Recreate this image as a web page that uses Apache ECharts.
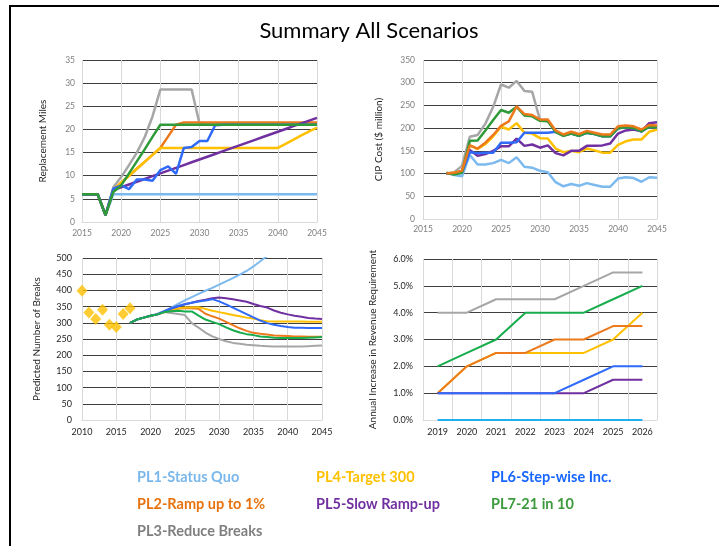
<!DOCTYPE html>
<html>
<head>
<meta charset="utf-8">
<script src="https://cdn.jsdelivr.net/npm/echarts@6/dist/echarts.min.js"></script>
<style>
  html, body { margin: 0; padding: 0; background: #fff; }
  #chart { width: 719px; height: 546px; position: relative; }
  #frame {
    position: absolute; left: 9px; top: 5px; right: 0; bottom: 0;
    border-top: 2px solid #000; border-left: 2px solid #000;
    pointer-events: none;
  }
</style>
</head>
<body>
<div id="chart"></div>
<div id="frame"></div>
<script>
// ---- scenario names / colours ----
const names = ['PL1-Status Quo', 'PL2-Ramp up to 1%', 'PL3-Reduce Breaks', 'PL4-Target 300',
  'PL5-Slow Ramp-up', 'PL6-Step-wise Inc.', 'PL7-21 in 10']

// ---- chart 1: Replacement Miles (2015-2045) ----
const years1 = [2015, 2016, 2017, 2018, 2019, 2020, 2021, 2022, 2023, 2024, 2025, 2026, 2027, 2028, 2029, 2030,
  2031, 2032, 2033, 2034, 2035, 2036, 2037, 2038, 2039, 2040, 2041, 2042, 2043, 2044, 2045]
const miles1 = [6, 6, 6, 1.5, 6, 6, 6, 6, 6, 6, 6, 6, 6, 6, 6, 6, 6, 6, 6, 6, 6, 6, 6, 6, 6, 6, 6, 6, 6, 6, 6]
const miles2 = [6, 6, 6, 1.5, 7, 8.5, 10, 11.5, 13, 14.5, 16, 18.5, 21, 21.5, 21.5, 21.5, 21.5, 21.5, 21.5, 21.5,
  21.5, 21.5, 21.5, 21.5, 21.5, 21.5, 21.5, 21.5, 21.5, 21.5, 21.5]
const miles3 = [6, 6, 6, 1.5, 7.5, 9.7, 12.3, 15, 18.3, 22.8, 28.6, 28.6, 28.6, 28.6, 28.6, 21.3, 21, 21, 21, 21,
  21, 21, 21, 21, 21, 21, 21, 21, 21, 21, 21]
const miles4 = [6, 6, 6, 1.5, 7, 8.5, 10, 11.5, 13, 14.5, 16, 16, 16, 16, 16, 16, 16, 16, 16, 16, 16, 16, 16, 16,
  16, 16, 16.9, 17.8, 18.7, 19.6, 20.4]
const miles5 = [6, 6, 6, 1.5, 6.9, 7.5, 8.1, 8.7, 9.3, 9.9, 10.5, 11.1, 11.7, 12.3, 12.9, 13.5, 14.1, 14.7, 15.3,
  15.9, 16.5, 17.1, 17.7, 18.3, 18.9, 19.5, 20.1, 20.7, 21.3, 21.9, 22.5]
const miles6 = [6, 6, 6, 1.5, 7.2, 7.9, 7.1, 9.2, 9.2, 8.9, 11.2, 12, 10.4, 16, 16.2, 17.5, 17.5, 20.9, 21, 21, 21,
  21, 21, 21, 21, 21, 21, 21, 21, 21, 21]
const miles7 = [6, 6, 6, 1.5, 6.5, 7.9, 10.5, 13.1, 15.7, 18.4, 21, 21, 21, 21, 21, 21, 21, 21, 21, 21, 21, 21, 21,
  21, 21, 21, 21, 21, 21, 21, 21]

// ---- chart 2: CIP Cost (2018-2045) ----
const years2 = [2018, 2019, 2020, 2021, 2022, 2023, 2024, 2025, 2026, 2027, 2028, 2029, 2030, 2031, 2032, 2033,
  2034, 2035, 2036, 2037, 2038, 2039, 2040, 2041, 2042, 2043, 2044, 2045]
const cip1 = [101, 97, 94, 141, 120, 120, 123, 130, 123, 136, 115, 113, 106, 103, 81, 72, 77, 73, 79, 75, 71, 71,
  89, 92, 90, 82, 92, 91]
const cip2 = [100, 102, 106, 162, 155, 168, 185, 205, 215, 248, 231, 229, 219, 219, 195, 186, 192, 187, 194, 190,
  186, 186, 204, 206, 204, 197, 207, 206]
const cip3 = [100, 103, 117, 181, 185, 210, 247, 296, 289, 304, 282, 280, 218, 215, 192, 183, 188, 183, 190, 187,
  182, 182, 200, 202, 200, 193, 203, 202]
const cip4 = [100, 102, 106, 162, 154, 165, 182, 203, 197, 211, 190, 188, 178, 177, 155, 147, 150, 147, 155, 151,
  146, 146, 163, 171, 175, 175, 192, 197]
const cip5 = [100, 100, 105, 152, 139, 143, 150, 160, 160, 177, 161, 164, 157, 162, 145, 140, 150, 150, 161, 161,
  162, 166, 188, 195, 197, 193, 211, 213]
const cip6 = [100, 100, 103, 147, 145, 146, 146, 168, 168, 169, 190, 190, 190, 190, 192, 185, 188, 183, 190, 187,
  182, 182, 200, 202, 200, 193, 203, 202]
const cip7 = [102, 98, 102, 172, 173, 195, 218, 240, 234, 247, 228, 226, 216, 215, 192, 183, 188, 183, 190, 187,
  182, 182, 200, 202, 200, 193, 203, 202]

// ---- chart 3: Predicted Number of Breaks ----
const histYears = [2010, 2011, 2012, 2013, 2014, 2015, 2016, 2017]
const histBreaks = [399, 332, 312, 340, 294, 287, 327, 345]
const years3 = [2017, 2018, 2019, 2020, 2021, 2022, 2023, 2024, 2025, 2026, 2027, 2028, 2029, 2030, 2031, 2032,
  2033, 2034, 2035, 2036, 2037, 2038, 2039, 2040, 2041, 2042, 2043, 2044, 2045]
const brk1 = [300, 310, 316, 322, 328, 337, 347, 358, 369, 379, 389, 399, 408, 418, 428, 438, 449, 460, 474, 490, 506]
const brk2 = [300, 310, 316, 322, 326, 333, 338, 343, 345, 345, 343, 328, 320, 313, 303, 293, 283, 275, 269, 266,
  264, 261, 260, 259, 258, 258, 257, 257, 257]
const brk3 = [300, 310, 316, 322, 326, 333, 330, 327, 324, 299, 285, 270, 258, 250, 243, 238, 235, 232, 231, 229,
  228, 227, 227, 227, 227, 227, 228, 229, 230]
const brk4 = [300, 310, 316, 322, 326, 334, 340, 345, 347, 348, 348, 343, 337, 333, 329, 324, 320, 316, 313, 308,
  305, 304, 304, 304, 304, 304, 303, 303, 303]
const brk5 = [300, 310, 316, 322, 326, 335, 344, 351, 357, 362, 367, 371, 376, 378, 376, 373, 369, 365, 358, 352,
  347, 338, 331, 326, 322, 319, 315, 313, 312]
const brk6 = [300, 310, 316, 322, 326, 335, 344, 351, 357, 362, 366, 369, 373, 366, 357, 347, 337, 327, 317, 307,
  299, 294, 290, 287, 285, 285, 284, 284, 284]
const brk7 = [300, 310, 316, 322, 326, 333, 336, 337, 335, 335, 322, 310, 303, 296, 286, 277, 270, 265, 262, 258,
  256, 254, 253, 253, 253, 253, 254, 255, 256]

// ---- chart 4: Annual Increase in Revenue Requirement (%) ----
const years4 = ['2019', '2020', '2021', '2022', '2023', '2024', '2025', '2026']
const rev1 = [0, 0, 0, 0, 0, 0, 0, 0]
const rev2 = [1.0, 2.0, 2.5, 2.5, 3.0, 3.0, 3.5, 3.5]
const rev3 = [4.0, 4.0, 4.5, 4.5, 4.5, 5.0, 5.5, 5.5]
const rev4 = [1.0, 2.0, 2.5, 2.5, 2.5, 2.5, 3.0, 4.0]
const rev5 = [1.0, 1.0, 1.0, 1.0, 1.0, 1.0, 1.5, 1.5]
const rev6 = [1.0, 1.0, 1.0, 1.0, 1.0, 1.5, 2.0, 2.0]
const rev7 = [2.0, 2.5, 3.0, 4.0, 4.0, 4.0, 4.5, 5.0]

const FONT = 'Lato, "Open Sans", sans-serif'
const C = {
  sq: '#7CB9EE', sq4: '#22B0EE', ramp: '#EC7A1C', red: '#A6A6A6', tgt: '#FFC000',
  slow: '#7030A0', step: '#2F6AF8', g1: '#2F9A38', g2: '#17AD4C'
}
const legendColors = ['#7AB7EB', '#E8730E', '#7F7F7F', '#FFC000', '#7030A0', '#1766FF', '#3C9A3C']

const pairs = (xs, ys) => ys.map((v, i) => [xs[i], v])

function line(name, idx, data, color, width) {
  return {
    name, type: 'line', xAxisIndex: idx, yAxisIndex: idx, data,
    showSymbol: false, symbol: 'none', silent: true,
    lineStyle: { color, width }, itemStyle: { color }
  }
}

function valueX(idx, min, max, labelColor, size, margin) {
  return {
    gridIndex: idx, type: 'value', min, max, interval: 5,
    axisLine: { lineStyle: { color: '#d9d9d9' } },
    axisTick: { show: false },
    splitLine: { lineStyle: { color: '#d9d9d9' } },
    axisLabel: { color: labelColor, fontSize: size, fontFamily: FONT, margin, formatter: v => String(v) }
  }
}

function valueY(idx, max, interval, name, gap, labelColor, size, margin, fmt) {
  return {
    gridIndex: idx, type: 'value', min: 0, max, interval,
    name, nameLocation: 'middle', nameGap: gap,
    nameTextStyle: { color: '#262626', fontSize: 10, fontFamily: FONT },
    axisLine: { show: false }, axisTick: { show: false },
    splitLine: { lineStyle: { color: '#3f3f3f' } },
    axisLabel: { color: labelColor, fontSize: size, fontFamily: FONT, margin, formatter: fmt || (v => String(v)) }
  }
}

const legendCol = (left, items) => ({
  orient: 'vertical', left, top: 463, icon: 'none', itemWidth: 0, itemHeight: 14, itemGap: 8,
  selectedMode: false,
  textStyle: { fontFamily: FONT, fontWeight: 'bold', fontSize: 14.5, lineHeight: 19 },
  data: items.map(i => ({ name: names[i], textStyle: { color: legendColors[i] } }))
})

const chart = echarts.init(document.getElementById('chart'))
chart.setOption({
  animation: false,
  textStyle: { fontFamily: FONT },
  graphic: [{
    type: 'text', x: 369, y: 31,
    style: { text: 'Summary All Scenarios', fontFamily: FONT, fontSize: 22, fill: '#000',
      textAlign: 'center', textVerticalAlign: 'middle' }
  }],
  legend: [legendCol(127, [0, 1, 2]), legendCol(306, [3, 4]), legendCol(481, [5, 6])],
  grid: [
    { left: 82, top: 60, width: 235, height: 162 },
    { left: 423, top: 60, width: 234, height: 159 },
    { left: 82, top: 258, width: 240, height: 162 },
    { left: 423, top: 259, width: 234, height: 161 }
  ],
  xAxis: [
    valueX(0, 2015, 2045, '#7f7f7f', 8.5, 7),
    valueX(1, 2015, 2045, '#7f7f7f', 8.5, 6),
    valueX(2, 2010, 2045, '#262626', 9, 8),
    {
      gridIndex: 3, type: 'category', data: years4, boundaryGap: true,
      axisLine: { lineStyle: { color: '#d9d9d9' } }, axisTick: { show: false },
      splitLine: { show: true, lineStyle: { color: '#d9d9d9' } },
      axisLabel: { color: '#262626', fontSize: 9, fontFamily: FONT, margin: 8 }
    }
  ],
  yAxis: [
    valueY(0, 35, 5, 'Replacement Miles', 34, '#7f7f7f', 8.5, 7),
    valueY(1, 350, 50, 'CIP Cost ($ million)', 39, '#7f7f7f', 8.5, 8),
    valueY(2, 500, 50, 'Predicted Number of Breaks', 40, '#262626', 9, 10),
    valueY(3, 6, 1, 'Annual Increase in Revenue Requirement', 45, '#262626', 9, 10, v => v.toFixed(1) + '%')
  ],
  series: [
    // chart 1
    line(names[0], 0, pairs(years1, miles1), C.sq, 2.5),
    line(names[2], 0, pairs(years1, miles3), C.red, 2.5),
    line(names[1], 0, pairs(years1, miles2), C.ramp, 2.5),
    line(names[3], 0, pairs(years1, miles4), C.tgt, 2.5),
    line(names[4], 0, pairs(years1, miles5), C.slow, 2.5),
    line(names[5], 0, pairs(years1, miles6), C.step, 2.5),
    line(names[6], 0, pairs(years1, miles7), C.g1, 2.5),
    // chart 2
    line(names[0], 1, pairs(years2, cip1), C.sq, 2.5),
    line(names[2], 1, pairs(years2, cip3), C.red, 2.5),
    line(names[3], 1, pairs(years2, cip4), C.tgt, 2.5),
    line(names[4], 1, pairs(years2, cip5), C.slow, 2.5),
    line(names[5], 1, pairs(years2, cip6), C.step, 2.5),
    line(names[6], 1, pairs(years2, cip7), C.g1, 2.5),
    line(names[1], 1, pairs(years2, cip2), C.ramp, 2.5),
    // chart 3
    {
      name: 'Historical', type: 'scatter', xAxisIndex: 2, yAxisIndex: 2, silent: true,
      data: pairs(histYears, histBreaks), symbol: 'diamond', symbolSize: [11, 12],
      itemStyle: { color: C.tgt }
    },
    line(names[0], 2, pairs(years3, brk1), C.sq, 2),
    line(names[2], 2, pairs(years3, brk3), C.red, 2),
    line(names[1], 2, pairs(years3, brk2), C.ramp, 2),
    line(names[3], 2, pairs(years3, brk4), C.tgt, 2),
    line(names[4], 2, pairs(years3, brk5), C.slow, 2),
    line(names[5], 2, pairs(years3, brk6), C.step, 2),
    line(names[6], 2, pairs(years3, brk7), C.g2, 2),
    // chart 4
    line(names[0], 3, rev1, C.sq4, 2),
    line(names[3], 3, rev4, C.tgt, 2),
    line(names[1], 3, rev2, C.ramp, 2),
    line(names[4], 3, rev5, C.slow, 2),
    line(names[5], 3, rev6, C.step, 2),
    line(names[2], 3, rev3, C.red, 2),
    line(names[6], 3, rev7, C.g2, 2)
  ]
})
</script>
</body>
</html>
